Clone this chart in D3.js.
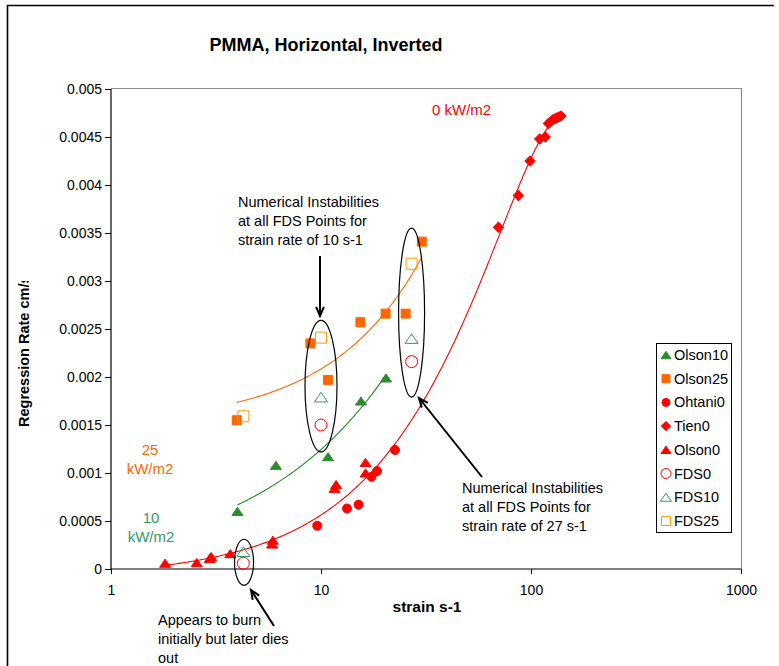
<!DOCTYPE html>
<html>
<head>
<meta charset="utf-8">
<script src="https://cdn.jsdelivr.net/npm/d3@7/dist/d3.min.js"></script>
<style>
  html, body { margin: 0; padding: 0; background: #fff; }
  svg text { font-family: "Liberation Sans", Arial, sans-serif; }
</style>
</head>
<body>
<svg id="chart" width="779" height="666"></svg>
<script>
// ---- data: [strain (1/s), regression rate (cm/s)] ----
const olson10 = [[4.0,0.0006],[6.1,0.00108],[10.8,0.00117],[15.5,0.00175],[20.4,0.00199]];
const olson25 = [[3.97,0.00155],[8.9,0.00235],[10.8,0.00197],[15.4,0.00257],[20.3,0.00266],[25.3,0.00266],[30.2,0.00341]];
const ohtani0 = [[9.6,0.00045],[13.3,0.00063],[15.1,0.00067],[17.4,0.00096],[18.5,0.00102],[22.5,0.00124]];
const tien0 = [[70,0.00356],[87,0.00389],[99,0.00425],[110,0.00448],[117,0.0045],[121,0.00464],[124,0.00466],[127,0.00468],[130,0.00469],[133,0.0047],[136,0.00471],[139,0.00472]];
const olson0 = [[1.81,0.00006],[2.56,0.000066],[2.95,0.00011],[3.0,0.00013],[3.7,0.00016],[5.85,0.00026],[5.9,0.0003],[11.6,0.00084],[11.8,0.00088],[16.3,0.00111],[16.3,0.001]];
const fds0 = [[4.27,0.00006],[10,0.0015],[27,0.00216]];
const fds10 = [[4.27,0.00018],[10,0.00179],[27,0.0024]];
const fds25 = [[4.27,0.00159],[10,0.00241],[27,0.00318]];

const xTicks = [1, 10, 100, 1000];
const xTickLabels = ["1", "10", "100", "1000"];
const yTicks = [0,0.0005,0.001,0.0015,0.002,0.0025,0.003,0.0035,0.004,0.0045,0.005];
const yTickLabels = ["0","0.0005","0.001","0.0015","0.002","0.0025","0.003","0.0035","0.004","0.0045","0.005"];

const RED = "#FF0000", ORANGE = "#FF6600", LORANGE = "#FF9900", DGREEN = "#2E8B2E", SGREEN = "#339966";

// ---- series styling ----
const series = [
  {name:"Olson10", data:olson10, shape:"triangle", fill:DGREEN, stroke:DGREEN, size:11},
  {name:"Olson25", data:olson25, shape:"square", fill:ORANGE, stroke:ORANGE, size:9},
  {name:"Ohtani0", data:ohtani0, shape:"circle", fill:RED, stroke:RED, size:9},
  {name:"Tien0", data:tien0, shape:"diamond", fill:RED, stroke:RED, size:10},
  {name:"Olson0", data:olson0, shape:"triangle", fill:RED, stroke:RED, size:11},
  {name:"FDS0", data:fds0, shape:"circle", fill:"none", stroke:RED, size:12},
  {name:"FDS10", data:fds10, shape:"triangle", fill:"none", stroke:SGREEN, size:13},
  {name:"FDS25", data:fds25, shape:"square", fill:"none", stroke:LORANGE, size:11}
];

const svg = d3.select("#chart");
const W = 779, H = 666;
const plot = {left:111, right:741, top:89, bottom:569};

const x = d3.scaleLog().domain([1, 1000]).range([plot.left, plot.right]);
const y = d3.scaleLinear().domain([0, 0.005]).range([plot.bottom, plot.top]);

// outer chart frame (left and top edges visible)
svg.append("path")
  .attr("d", `M7.5,${H+5} L7.5,5.5 L774,5.5`)
  .attr("fill", "none").attr("stroke", "#000").attr("stroke-width", 1.6);

// plot area border (grey top/right)
svg.append("path")
  .attr("d", `M${plot.left},${plot.top-0.5} L${plot.right+0.5},${plot.top-0.5} L${plot.right+0.5},${plot.bottom}`)
  .attr("fill", "none").attr("stroke", "#8c8c8c").attr("stroke-width", 1.2);

// axes
const yAxis = d3.axisLeft(y).tickValues(yTicks).tickSize(6).tickPadding(3)
  .tickFormat((d, i) => yTickLabels[i]);
const gy = svg.append("g").attr("transform", `translate(${plot.left},0)`).call(yAxis);
const xAxis = d3.axisBottom(x).tickValues(xTicks).tickSize(5).tickPadding(11)
  .tickFormat((d, i) => xTickLabels[i]);
const gx = svg.append("g").attr("transform", `translate(0,${plot.bottom})`).call(xAxis);
[gx, gy].forEach(g => {
  g.selectAll("path.domain").attr("stroke", "#000").attr("stroke-width", 1.2);
  g.selectAll(".tick line").attr("stroke", "#000");
  g.selectAll(".tick text").attr("font-size", 14).attr("fill", "#000")
    .style("font-family", '"Liberation Sans", Arial, sans-serif');
});
gy.select("path.domain").attr("d", `M0,${plot.bottom}V${plot.top}`);
gx.select("path.domain").attr("d", `M${plot.left},0H${plot.right}`);

// ---- trend lines (least-squares fits of the measured series) ----
function polyFit(pts, order) {
  const n = order + 1;
  const A = Array.from({length:n}, () => new Array(n + 1).fill(0));
  pts.forEach(([s, v]) => {
    for (let i = 0; i < n; i++) {
      for (let j = 0; j < n; j++) A[i][j] += Math.pow(s, i + j);
      A[i][n] += v * Math.pow(s, i);
    }
  });
  for (let c = 0; c < n; c++) {
    let p = c;
    for (let r = c + 1; r < n; r++) if (Math.abs(A[r][c]) > Math.abs(A[p][c])) p = r;
    [A[c], A[p]] = [A[p], A[c]];
    for (let r = 0; r < n; r++) {
      if (r === c) continue;
      const f = A[r][c] / A[c][c];
      for (let k = c; k <= n; k++) A[r][k] -= f * A[c][k];
    }
  }
  const coef = A.map((row, i) => row[n] / row[i]);
  return s => coef.reduce((acc, c, i) => acc + c * Math.pow(s, i), 0);
}
function powerFit(pts) {
  const lp = pts.map(([s, v]) => [Math.log(s), Math.log(v)]);
  const lin = polyFit(lp, 1);
  const a = lin(0), b = lin(1) - lin(0);
  return s => Math.exp(a) * Math.pow(s, b);
}
function trendPath(fn, pts) {
  const [lo, hi] = d3.extent(pts, d => d[0]);
  const xs = d3.range(0, 201).map(i => lo * Math.pow(hi / lo, i / 200));
  return d3.line().x(s => x(s)).y(s => y(fn(s)))(xs);
}
const allZero = olson0.concat(ohtani0, tien0);
const trends = [
  {pts: allZero, fn: polyFit(allZero, 2), color: RED},
  {pts: olson10, fn: powerFit(olson10), color: "#1E8C1E"},
  {pts: olson25, fn: polyFit(olson25, 1), color: ORANGE}
];
svg.append("g").selectAll("path").data(trends).join("path")
  .attr("d", t => trendPath(t.fn, t.pts))
  .attr("fill", "none").attr("stroke", t => t.color).attr("stroke-width", 1.1);

// ---- markers ----
function symbolPath(shape, size) {
  if (shape === "square") return d3.symbol(d3.symbolSquare, size * size)();
  if (shape === "diamond") return d3.symbol(d3.symbolSquare, size * size / 2)();
  if (shape === "circle") return d3.symbol(d3.symbolCircle, Math.PI * (size / 2) * (size / 2))();
  const h = size * Math.sqrt(3) / 2 * 0.85;
  return `M0,${-h/2}L${size/2},${h/2}L${-size/2},${h/2}Z`;
}
const mk = svg.append("g");
series.forEach(s => {
  mk.append("g").selectAll("path").data(s.data).join("path")
    .attr("d", symbolPath(s.shape, s.size))
    .attr("transform", d => `translate(${x(d[0])},${y(d[1])})` + (s.shape === "diamond" ? " rotate(45)" : ""))
    .attr("fill", s.fill).attr("stroke", s.stroke).attr("stroke-width", 1);
});

// ---- annotation ellipses around the FDS runs ----
const rings = [
  {s: 4.3, top: 0.00031, bottom: -0.00017, rx: 9.5},
  {s: 10, top: 0.00259, bottom: 0.00122, rx: 16},
  {s: 27, top: 0.00355, bottom: 0.00179, rx: 13}
];
svg.append("g").selectAll("ellipse").data(rings).join("ellipse")
  .attr("cx", d => x(d.s))
  .attr("cy", d => (y(d.top) + y(d.bottom)) / 2)
  .attr("rx", d => d.rx)
  .attr("ry", d => (y(d.bottom) - y(d.top)) / 2)
  .attr("fill", "none").attr("stroke", "#000").attr("stroke-width", 1.2);

// ---- arrows ----
const arrows = [
  {x1: 320, y1: 256, x2: 320, y2: 316},
  {x1: 482, y1: 477, x2: 419, y2: 398},
  {x1: 274, y1: 626, x2: 251, y2: 590}
];
const ag = svg.append("g").attr("stroke", "#000").attr("fill", "none");
arrows.forEach(a => {
  ag.append("line").attr("x1", a.x1).attr("y1", a.y1).attr("x2", a.x2).attr("y2", a.y2)
    .attr("stroke-width", 2);
  const ang = Math.atan2(a.y2 - a.y1, a.x2 - a.x1);
  const L = 10, sp = 0.4;
  const p1 = [a.x2 - L * Math.cos(ang - sp), a.y2 - L * Math.sin(ang - sp)];
  const p2 = [a.x2 - L * Math.cos(ang + sp), a.y2 - L * Math.sin(ang + sp)];
  ag.append("path").attr("d", `M${p1}L${a.x2},${a.y2}L${p2}`).attr("stroke-width", 2);
});

// ---- text blocks ----
const notes = [
  {x: 238, y: 206.5, lines: ["Numerical Instabilities", "at all FDS Points for", "strain rate of 10 s-1"]},
  {x: 462, y: 493, lines: ["Numerical Instabilities", "at all FDS Points for", "strain rate of 27 s-1"]},
  {x: 158, y: 625, lines: ["Appears to burn", "initially but later dies", "out"]}
];
notes.forEach(n => {
  const t = svg.append("text").attr("x", n.x).attr("y", n.y).attr("font-size", 14.5).attr("fill", "#000");
  n.lines.forEach((l, i) => t.append("tspan").attr("x", n.x).attr("dy", i ? 19 : 0).text(l));
});

// flux labels
const flux = [
  {x: 432, y: 115, anchor: "start", color: RED, lines: ["0 kW/m2"]},
  {x: 150, y: 454.5, anchor: "middle", color: ORANGE, lines: ["25", "kW/m2"]},
  {x: 151, y: 522.5, anchor: "middle", color: SGREEN, lines: ["10", "kW/m2"]}
];
flux.forEach(f => {
  const t = svg.append("text").attr("x", f.x).attr("y", f.y).attr("font-size", 15)
    .attr("fill", f.color).attr("text-anchor", f.anchor);
  f.lines.forEach((l, i) => t.append("tspan").attr("x", f.x).attr("dy", i ? 19 : 0).text(l));
});

// titles
svg.append("text").attr("x", 326).attr("y", 51).attr("text-anchor", "middle")
  .attr("font-size", 18).attr("font-weight", "bold").text("PMMA, Horizontal, Inverted");
svg.append("text").attr("x", 427).attr("y", 612).attr("text-anchor", "middle")
  .attr("font-size", 15.5).attr("font-weight", "bold").text("strain s-1");
svg.append("clipPath").attr("id", "ytclip").append("rect")
  .attr("x", 0).attr("y", 281).attr("width", 60).attr("height", 200);
svg.append("g").attr("clip-path", "url(#ytclip)")
  .append("text").attr("transform", "translate(29,427) rotate(-90)")
  .attr("font-size", 14.5).attr("font-weight", "bold").text("Regression Rate cm/s");

// ---- legend ----
const lg = svg.append("g");
lg.append("rect").attr("x", 656.5).attr("y", 343.5).attr("width", 75).attr("height", 189)
  .attr("fill", "#fff").attr("stroke", "#000").attr("stroke-width", 1);
series.forEach((s, i) => {
  const cy = 355 + i * 23.7;
  const lsize = s.shape === "circle" && s.fill !== "none" ? 8 : (s.fill === "none" ? s.size - 2 : s.size - 1);
  lg.append("path").attr("d", symbolPath(s.shape, lsize))
    .attr("transform", `translate(666,${cy})` + (s.shape === "diamond" ? " rotate(45)" : ""))
    .attr("fill", s.fill).attr("stroke", s.stroke).attr("stroke-width", 1);
  lg.append("text").attr("x", 674).attr("y", cy + 5).attr("font-size", 14.5).text(s.name);
});
</script>
</body>
</html>
